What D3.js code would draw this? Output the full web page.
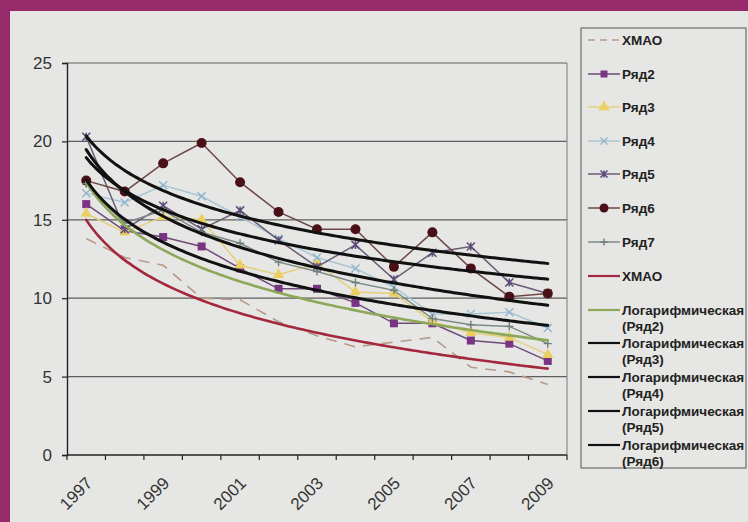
<!DOCTYPE html>
<html><head><meta charset="utf-8">
<script src="https://cdn.jsdelivr.net/npm/d3@7/dist/d3.min.js"></script>
<style>
html,body{margin:0;padding:0;background:#962a6a;}
svg{display:block;}
text{font-family:"Liberation Sans",Arial,sans-serif;}
</style></head>
<body>
<svg id="c" width="748" height="522"></svg>
<script>
const years = ["1997","1998","1999","2000","2001","2002","2003","2004","2005","2006","2007","2008","2009"];
const yTicks = [0,5,10,15,20,25];
const xLabels = ["1997","1999","2001","2003","2005","2007","2009"];

const hmao = [13.8,12.6,12.1,10.0,9.9,8.5,7.6,6.9,7.2,7.5,5.6,5.3,4.5];
const ryad2 = [16.0,14.3,13.9,13.3,11.9,10.6,10.6,9.7,8.4,8.4,7.3,7.1,6.0];
const ryad3 = [15.4,14.2,15.2,15.0,12.1,11.5,12.2,10.4,10.3,8.5,7.8,7.5,6.4];
const ryad4 = [16.7,16.1,17.2,16.5,15.2,13.8,12.6,11.9,10.7,9.0,9.0,9.1,8.1];
const ryad5 = [20.3,14.4,15.9,14.4,15.6,13.7,12.0,13.4,11.2,12.9,13.3,11.0,10.3];
const ryad6 = [17.5,16.8,18.6,19.9,17.4,15.5,14.4,14.4,12.0,14.2,11.9,10.1,10.3];
const ryad7 = [17.3,14.8,15.6,14.2,13.5,12.3,11.7,11.0,10.5,8.7,8.3,8.2,7.1];

const series = [
  {name:"ХМАО", data:hmao, color:"#b59a8a", width:1.6, dash:"11,8", marker:null},
  {name:"Ряд2", data:ryad2, color:"#6e4a78", width:1.5, marker:"square", mcolor:"#7a3484"},
  {name:"Ряд3", data:ryad3, color:"#e6cf7c", width:1.5, marker:"triangle", mcolor:"#ebcf60"},
  {name:"Ряд4", data:ryad4, color:"#a9c6d6", width:1.5, marker:"x", mcolor:"#90b4cc"},
  {name:"Ряд5", data:ryad5, color:"#6a5c78", width:1.5, marker:"star", mcolor:"#5c4a78"},
  {name:"Ряд6", data:ryad6, color:"#6e4848", width:1.5, marker:"circle", mcolor:"#4a1018"},
  {name:"Ряд7", data:ryad7, color:"#7e8c88", width:1.5, marker:"plus", mcolor:"#6e7e7a"}
];
const trends = [
  {name:"ХМАО", data:hmao, color:"#a3283e", width:2.6},
  {name:"Логарифмическая|(Ряд2)", data:ryad2, color:"#8ca858", width:2.6},
  {name:"Логарифмическая|(Ряд3)", data:ryad3, color:"#111111", width:3},
  {name:"Логарифмическая|(Ряд4)", data:ryad4, color:"#111111", width:3},
  {name:"Логарифмическая|(Ряд5)", data:ryad5, color:"#111111", width:3},
  {name:"Логарифмическая|(Ряд6)", data:ryad6, color:"#111111", width:3}
];

const svg = d3.select("#c");
svg.append("rect").attr("x",10).attr("y",11).attr("width",740).attr("height",515).attr("fill","#e6e6e4");

const x = d3.scaleBand().domain(years).range([67,567]).paddingInner(0).paddingOuter(0);
const y = d3.scaleLinear().domain([0,25]).range([455,63]);
const cx = d => x(d) + x.bandwidth()/2;

const g = svg.append("g");
g.selectAll("line.grid").data(yTicks.filter(v=>v>0)).join("line")
  .attr("x1",67).attr("x2",567).attr("y1",d=>y(d)).attr("y2",d=>y(d))
  .attr("stroke","#5e5e5e").attr("stroke-width",1.2);
g.append("line").attr("x1",567).attr("x2",567).attr("y1",63).attr("y2",455).attr("stroke","#8a8a8a").attr("stroke-width",1.2);

const yAxis = d3.axisLeft(y).tickValues(yTicks).tickSize(5).tickPadding(10).tickFormat(d3.format("d"));
const ya = svg.append("g").attr("transform","translate(67,0)").call(yAxis);
ya.select(".domain").attr("stroke","#222").attr("stroke-width",1.4);
ya.selectAll(".tick line").attr("stroke","#222").attr("stroke-width",1.2);
ya.selectAll("text").attr("font-size",17).attr("fill","#333");

const xa = svg.append("g").attr("transform","translate(0,455)");
xa.append("line").attr("x1",67).attr("x2",567).attr("stroke","#222").attr("stroke-width",1.4);
const bounds = years.map(d=>x(d)).concat([567]);
xa.selectAll("line.t").data(bounds).join("line").attr("class","t")
  .attr("x1",d=>d).attr("x2",d=>d).attr("y1",0).attr("y2",5).attr("stroke","#222").attr("stroke-width",1.2);
xa.selectAll("text").data(xLabels).join("text")
  .attr("transform",d=>`translate(${cx(d)+3},${25}) rotate(-45)`)
  .attr("text-anchor","end").attr("dy","0.35em").attr("font-size",17).attr("fill","#333").text(d=>d);

function drawMarker(sel, type, color, s){
  s = s||4;
  if(type==="square") sel.append("rect").attr("x",-s).attr("y",-s).attr("width",2*s).attr("height",2*s).attr("fill",color);
  else if(type==="circle") sel.append("circle").attr("r",s+1).attr("fill",color);
  else if(type==="triangle") sel.append("path").attr("d",d3.symbol(d3.symbolTriangle, 55)()).attr("fill",color);
  else if(type==="x") sel.append("path").attr("d",`M${-s},${-s}L${s},${s}M${-s},${s}L${s},${-s}`).attr("stroke",color).attr("stroke-width",1.4);
  else if(type==="star") sel.append("path").attr("d",`M${-s},${-s}L${s},${s}M${-s},${s}L${s},${-s}M0,${-s}L0,${s}`).attr("stroke",color).attr("stroke-width",1.5);
  else if(type==="plus") sel.append("path").attr("d",`M${-s},0L${s},0M0,${-s}L0,${s}`).attr("stroke",color).attr("stroke-width",1.4);
}

const line = d3.line().x((d,i)=>cx(years[i])).y(d=>y(d));
const plot = svg.append("g");
series.forEach(s=>{
  plot.append("path").attr("d",line(s.data)).attr("fill","none").attr("stroke",s.color)
    .attr("stroke-width",s.width).attr("stroke-dasharray",s.dash||null);
  if(s.marker){
    s.data.forEach((v,i)=>{
      const m = plot.append("g").attr("transform",`translate(${cx(years[i])},${y(v)})`);
      drawMarker(m, s.marker, s.mcolor);
    });
  }
});

function logFit(data){
  const L=data.map((v,i)=>Math.log(i+1));
  const mL=d3.mean(L), mY=d3.mean(data);
  let sxy=0,sxx=0; L.forEach((l,i)=>{sxy+=(l-mL)*(data[i]-mY); sxx+=(l-mL)*(l-mL);});
  const b=sxy/sxx, a=mY-b*mL; return t=>a+b*Math.log(t);
}
const step = x.bandwidth();
const x0 = cx(years[0]);
trends.forEach(tr=>{
  const f = logFit(tr.data);
  const pts = d3.range(1, years.length+0.001, 0.1).map(t=>[x0+(t-1)*step, y(f(t))]);
  plot.append("path").attr("d",d3.line().curve(d3.curveMonotoneX)(pts)).attr("fill","none")
    .attr("stroke",tr.color).attr("stroke-width",tr.width).attr("stroke-linecap","round");
});

const lg = svg.append("g");
lg.append("rect").attr("x",581).attr("y",28).attr("width",165).attr("height",440)
  .attr("fill","#e6e6e4").attr("stroke","#6e6e6e").attr("stroke-width",1.2);
const itemsY = [40,74,107,141,174,208,242];
series.forEach((s,i)=>{
  const yy=itemsY[i];
  lg.append("line").attr("x1",588).attr("x2",620).attr("y1",yy).attr("y2",yy)
    .attr("stroke",s.color).attr("stroke-width",s.width).attr("stroke-dasharray",s.dash?"7,5":null);
  if(s.marker){ const m=lg.append("g").attr("transform",`translate(604,${yy})`); drawMarker(m,s.marker,s.mcolor,3.5); }
  lg.append("text").attr("x",622).attr("y",yy).attr("dy","0.36em").attr("font-size",13.5).attr("fill","#222").attr("font-weight","bold").text(s.name);
});
const trY = [276,310,343,377,411,445];
trends.forEach((t,i)=>{
  const yy=trY[i];
  lg.append("line").attr("x1",588).attr("x2",620).attr("y1",yy).attr("y2",yy)
    .attr("stroke",t.color).attr("stroke-width",2.2);
  const parts=t.name.split("|");
  parts.forEach((p,j)=>{
    lg.append("text").attr("x",622).attr("y",yy+j*16.5).attr("dy","0.36em").attr("font-size",13.5).attr("fill","#222").attr("font-weight","bold").text(p);
  });
});
</script>
</body></html>
